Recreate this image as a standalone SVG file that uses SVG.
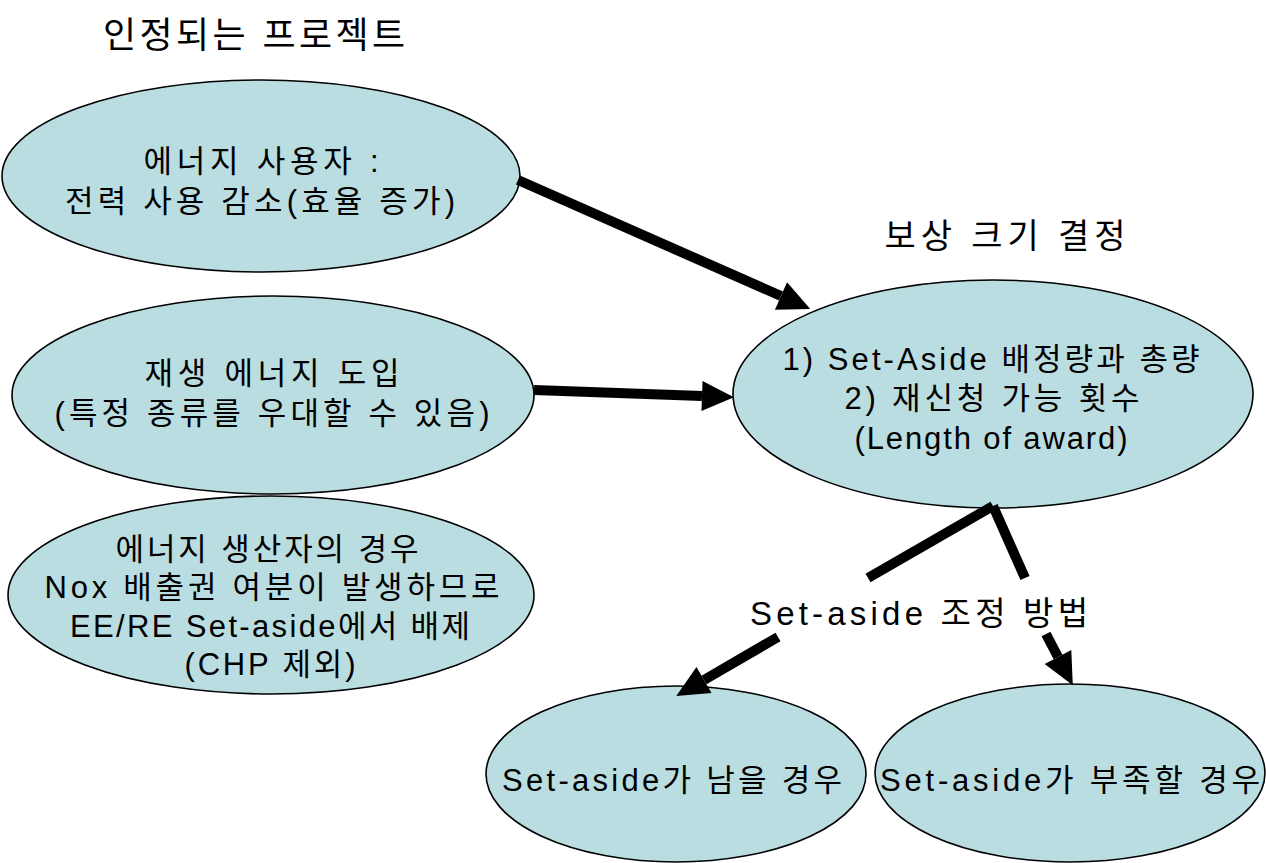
<svg xmlns="http://www.w3.org/2000/svg" width="1266" height="863" viewBox="0 0 1266 863">
<style>
.node{fill:#badde1;stroke:#000;stroke-width:1.6}
text{font-family:"Liberation Sans","Noto Sans CJK KR",sans-serif;fill:#000;text-anchor:middle}
.t{font-size:31px}
.h{font-size:36px}
.c{stroke:#000;stroke-width:10;fill:none}
</style>
<defs>
<marker id="ah" markerUnits="userSpaceOnUse" markerWidth="34" markerHeight="32" refX="0" refY="15" orient="auto" overflow="visible">
<path d="M0,0 L32,15 L0,30 z" fill="#000"/>
</marker>
</defs>
<rect width="1266" height="863" fill="#fff"/>
<text class="h" x="254" y="48" textLength="302" lengthAdjust="spacing">인정되는 프로젝트</text>
<text class="h" x="1005" y="248" style="font-size:34px" textLength="241" lengthAdjust="spacing">보상 크기 결정</text>
<g id="n1">
<ellipse class="node" cx="261" cy="176" rx="259" ry="96"/>
<text class="t" x="261" y="172" textLength="235" lengthAdjust="spacing">에너지 사용자 :</text>
<text class="t" x="260" y="212" textLength="390" lengthAdjust="spacing">전력 사용 감소(효율 증가)</text>
</g>
<g id="n2">
<ellipse class="node" cx="273" cy="395" rx="261" ry="99"/>
<text class="t" x="272" y="384" textLength="255" lengthAdjust="spacing">재생 에너지 도입</text>
<text class="t" x="272" y="424" textLength="435" lengthAdjust="spacing">(특정 종류를 우대할 수 있음)</text>
</g>
<g id="n3">
<ellipse class="node" cx="271" cy="595" rx="263" ry="99"/>
<text class="t" x="267" y="560" textLength="303" lengthAdjust="spacing">에너지 생산자의 경우</text>
<text class="t" x="272" y="598" textLength="455" lengthAdjust="spacing">Nox 배출권 여분이 발생하므로</text>
<text class="t" x="270" y="637" textLength="400" lengthAdjust="spacing">EE/RE Set-aside에서 배제</text>
<text class="t" x="270" y="675" textLength="171" lengthAdjust="spacing">(CHP 제외)</text>
</g>
<g id="n4">
<ellipse class="node" cx="993" cy="394" rx="260" ry="114"/>
<text class="t" x="991" y="370" textLength="417" lengthAdjust="spacing">1) Set-Aside 배정량과 총량</text>
<text class="t" x="992" y="409" textLength="295" lengthAdjust="spacing">2) 재신청 가능 횟수</text>
<text class="t" x="991" y="449" textLength="273" lengthAdjust="spacing">(Length of award)</text>
</g>
<g id="n5">
<ellipse class="node" cx="676" cy="774" rx="190" ry="88"/>
<text class="t" x="672" y="791" textLength="340" lengthAdjust="spacing">Set-aside가 남을 경우</text>
</g>
<g id="n6">
<ellipse class="node" cx="1070" cy="773" rx="195" ry="89"/>
<text class="t" x="1070" y="791" textLength="380" lengthAdjust="spacing">Set-aside가 부족할 경우</text>
</g>
<g id="connectors">
<line class="c" x1="518" y1="180" x2="781" y2="296" marker-end="url(#ah)"/>
<line class="c" x1="534" y1="390" x2="702" y2="396" marker-end="url(#ah)"/>
<line class="c" x1="993" y1="506" x2="868" y2="578"/>
<line class="c" x1="778" y1="637" x2="704" y2="680" marker-end="url(#ah)"/>
<line class="c" x1="993" y1="506" x2="1025" y2="578"/>
<line class="c" x1="1046" y1="634" x2="1058" y2="657" marker-end="url(#ah)"/>
</g>
<text class="h" x="919" y="625" style="font-size:33px" textLength="338" lengthAdjust="spacing">Set-aside 조정 방법</text>
</svg>
